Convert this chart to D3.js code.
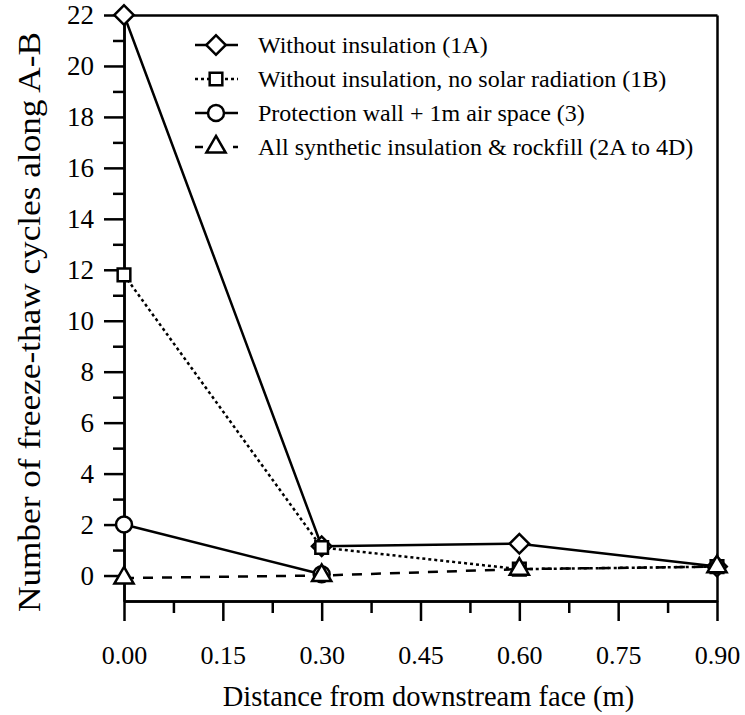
<!DOCTYPE html>
<html>
<head>
<meta charset="utf-8">
<script src="https://cdn.jsdelivr.net/npm/d3@7"></script>
<style>
  body { margin: 0; background: #fff; }
  svg { display: block; }
  text { font-family: "Liberation Serif", "DejaVu Serif", serif; fill: #000; }
</style>
</head>
<body>
<script>
// data
const distances = [0.00, 0.30, 0.60, 0.90];
const seriesNames = [
  "Without insulation (1A)",
  "Without insulation, no solar radiation (1B)",
  "Protection wall + 1m air space (3)",
  "All synthetic insulation & rockfill (2A to 4D)"
];
const noInsulation = [22.0, 1.15, 1.25, 0.35];
const noInsulationNoSolar = [11.8, 1.1, 0.25, 0.35];
const protectionWall = [2.0, 0.05];
const syntheticRockfill = [-0.1, 0.0, 0.25, 0.35];
const yTickLabels = [0, 2, 4, 6, 8, 10, 12, 14, 16, 18, 20, 22];
const xTickLabels = [0.00, 0.15, 0.30, 0.45, 0.60, 0.75, 0.90];

const width = 745, height = 715;
const svg = d3.select("body").append("svg")
  .attr("width", width).attr("height", height);

const x = d3.scaleLinear().domain([0, 0.9]).range([124, 717]);
const y = d3.scaleLinear().domain([-1, 22]).range([601, 15]);

const axisStroke = 2.5;

// left axis: minor ticks at odd numbers, major with labels at even
svg.append("g")
  .attr("transform", "translate(" + x(0) + ",0)")
  .call(d3.axisLeft(y).tickValues(d3.range(1, 22, 2)).tickSize(11).tickFormat("").tickSizeOuter(0));
const gy = svg.append("g")
  .attr("transform", "translate(" + x(0) + ",0)")
  .call(d3.axisLeft(y).tickValues(yTickLabels).tickSize(20).tickPadding(10).tickSizeOuter(0).tickFormat(d3.format("d")));

// bottom axis
svg.append("g")
  .attr("transform", "translate(0," + y(-1) + ")")
  .call(d3.axisBottom(x).tickValues(d3.range(0.075, 0.9, 0.15)).tickSize(12).tickFormat("").tickSizeOuter(0));
const gx = svg.append("g")
  .attr("transform", "translate(0," + y(-1) + ")")
  .call(d3.axisBottom(x).tickValues(xTickLabels).tickSize(20).tickPadding(25).tickSizeOuter(0).tickFormat(d3.format(".2f")));

// frame: top and right
svg.append("g")
  .attr("transform", "translate(0," + y(22) + ")")
  .call(d3.axisTop(x).tickValues([]).tickSizeOuter(0));
svg.append("g")
  .attr("transform", "translate(" + x(0.9) + ",0)")
  .call(d3.axisRight(y).tickValues([]).tickSizeOuter(0));

svg.selectAll(".domain, .tick line").attr("stroke", "#000").attr("stroke-width", axisStroke);
gy.selectAll(".tick text").attr("font-size", 27).attr("font-family", "Liberation Serif");
gx.selectAll(".tick text").attr("font-size", 26).attr("font-family", "Liberation Serif");

// axis titles
svg.append("text")
  .attr("x", (x(0) + x(0.9)) / 2 + 8)
  .attr("y", 706)
  .attr("text-anchor", "middle")
  .attr("font-size", 28.5)
  .text("Distance from downstream face (m)");

svg.append("text")
  .attr("transform", "translate(40,322) rotate(-90)")
  .attr("text-anchor", "middle")
  .attr("font-size", 32)
  .attr("textLength", 580)
  .attr("lengthAdjust", "spacingAndGlyphs")
  .text("Number of freeze-thaw cycles along A-B");

// series
const symbols = {
  diamond: d3.symbol().type(d3.symbolSquare).size(190),
  square: d3.symbol().type(d3.symbolSquare).size(160),
  circle: d3.symbol().type(d3.symbolCircle).size(Math.PI * 64),
  triangle: d3.symbol().type(d3.symbolTriangle).size(160)
};
const series = [
  { name: seriesNames[0], values: noInsulation, dash: null, sym: "diamond" },
  { name: seriesNames[1], values: noInsulationNoSolar, dash: "3,3", sym: "square" },
  { name: seriesNames[2], values: protectionWall, dash: null, sym: "circle" },
  { name: seriesNames[3], values: syntheticRockfill, dash: "10,9", sym: "triangle" }
];

const line = d3.line().x(d => x(d[0])).y(d => y(d[1]));

function marker(g, s, cx, cy) {
  g.append("path")
    .attr("d", symbols[s.sym]())
    .attr("transform", "translate(" + cx + "," + cy + ")" + (s.sym === "diamond" ? " rotate(45)" : ""))
    .attr("fill", "#fff")
    .attr("stroke", "#000")
    .attr("stroke-width", 2.5);
}

const plot = svg.append("g");
series.forEach(s => {
  const pts = s.values.map((v, i) => [distances[i], v]);
  plot.append("path")
    .attr("d", line(pts))
    .attr("fill", "none")
    .attr("stroke", "#000")
    .attr("stroke-width", 2.5)
    .attr("stroke-dasharray", s.dash);
});
series.forEach(s => {
  s.values.forEach((v, i) => marker(plot, s, x(distances[i]), y(v)));
});

// legend
const legend = svg.append("g");
series.forEach((s, i) => {
  const ly = 45 + i * 34;
  legend.append("line")
    .attr("x1", 195).attr("x2", 238).attr("y1", ly).attr("y2", ly)
    .attr("stroke", "#000").attr("stroke-width", 2.5)
    .attr("stroke-dasharray", s.dash === "10,9" ? "8,11" : s.dash);
  marker(legend, s, 216, ly);
  legend.append("text")
    .attr("x", 258).attr("y", ly + 8)
    .attr("font-size", 24)
    .text(s.name);
});
</script>
</body>
</html>
